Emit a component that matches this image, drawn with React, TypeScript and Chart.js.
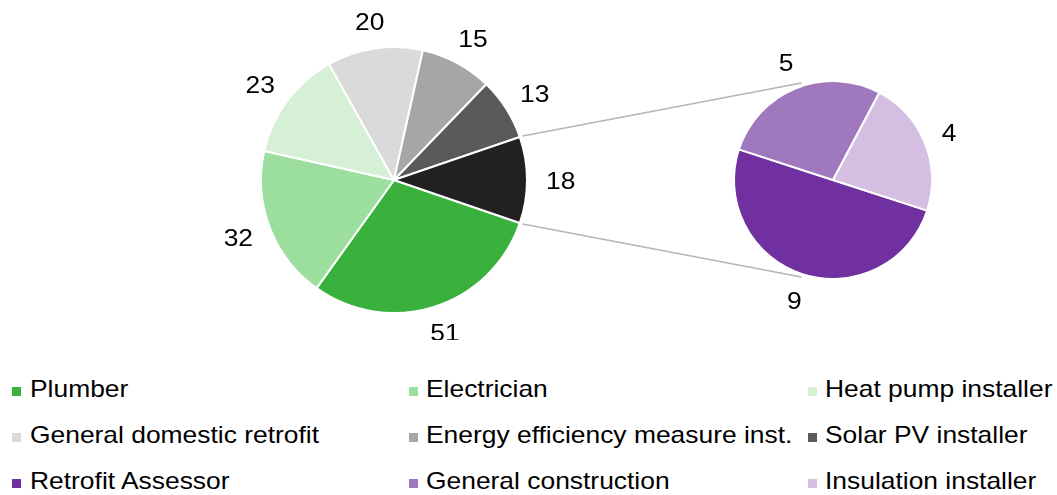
import React, { useEffect, useRef } from 'react';
import { Chart, registerables } from 'chart.js';

Chart.register(...registerables);

// Trades shown in the main pie
const mainLabels = [
  'Plumber',
  'Electrician',
  'Heat pump installer',
  'General domestic retrofit',
  'Energy efficiency measure inst.',
  'Solar PV installer',
];
const mainValues = [51, 32, 23, 20, 15, 13];
const mainColors = ['#39B13C', '#9CDE9E', '#D5F0D5', '#DADADA', '#A6A6A6', '#5A5A5A'];

// Trades split out into the secondary pie (their total forms the dark "other" slice)
const subLabels = ['Retrofit Assessor', 'General construction', 'Insulation installer'];
const subValues = [9, 5, 4];
const subColors = ['#7030A0', '#A078BE', '#D4BFE2'];
const otherColor = '#212121';

const W = 1057;
const H = 495;
const CH = 340;
const FONT_PX = 24;
const FONT = `${FONT_PX}px "Liberation Sans", Arial, sans-serif`;
const STRETCH = 1.1;
const DIGIT_H = 17;

const otherValue = subValues.reduce((a, b) => a + b, 0);
const mainTotal = mainValues.reduce((a, b) => a + b, 0) + otherValue;

// Main pie geometry
const MAIN_CX = 394;
const MAIN_CY = 180;
const MAIN_R = 133;
// Secondary pie geometry
const SUB_CX = 833;
const SUB_CY = 180;
const SUB_R = 99;
const SUB_ROTATION = 108;

const paddingFor = (cx: number, cy: number) => ({
  left: cx - 150,
  right: W - (cx + 150),
  top: cy - 150,
  bottom: CH - (cy + 150),
});

// Draws each slice's value just outside its outer edge
const valueLabels = {
  id: 'valueLabels',
  afterDatasetsDraw(chart: any) {
    const ctx = chart.ctx;
    const meta = chart.getDatasetMeta(0);
    const values = chart.data.datasets[0].data;
    ctx.save();
    ctx.font = FONT;
    ctx.fillStyle = '#000000';
    ctx.textAlign = 'center';
    ctx.textBaseline = 'alphabetic';
    meta.data.forEach((arc: any, i: number) => {
      const { x, y, startAngle, endAngle, outerRadius } = arc.getProps(
        ['x', 'y', 'startAngle', 'endAngle', 'outerRadius'],
        true
      );
      const a = (startAngle + endAngle) / 2;
      const c = Math.cos(a);
      const s = Math.sin(a);
      const txt = String(values[i]);
      const w = ctx.measureText(txt).width * STRETCH;
      const gap = 19;
      const cx = x + (outerRadius + gap) * c + (c * w) / 2;
      const cy = y + (outerRadius + gap) * s + (s * DIGIT_H) / 2;
      ctx.save();
      ctx.translate(cx, cy + DIGIT_H / 2);
      ctx.scale(STRETCH, 1);
      ctx.fillText(txt, 0, 0);
      ctx.restore();
    });
    ctx.restore();
  },
};

const legendItems = [
  ...mainLabels.map((l, i) => ({ label: l, color: mainColors[i] })),
  ...subLabels.map((l, i) => ({ label: l, color: subColors[i] })),
];

export default function App() {
  const mainRef = useRef<HTMLCanvasElement | null>(null);
  const subRef = useRef<HTMLCanvasElement | null>(null);

  useEffect(() => {
    if (!mainRef.current || !subRef.current) return;

    const mainChart = new Chart(mainRef.current, {
      type: 'pie',
      data: {
        labels: [...mainLabels, 'Other'],
        datasets: [
          {
            data: [...mainValues, otherValue],
            backgroundColor: [...mainColors, otherColor],
            borderColor: '#FFFFFF',
            borderWidth: 2,
          },
        ],
      },
      options: {
        responsive: false,
        animation: false,
        devicePixelRatio: 1,
        radius: MAIN_R,
        rotation: 90 + (otherValue / mainTotal) * 180,
        layout: { padding: paddingFor(MAIN_CX, MAIN_CY) },
        plugins: { legend: { display: false }, tooltip: { enabled: false } },
      } as any,
      plugins: [valueLabels],
    });

    // Lines joining the "other" slice to the secondary pie
    const connectors = {
      id: 'connectors',
      beforeDatasetsDraw(chart: any) {
        const arcs = mainChart.getDatasetMeta(0).data as any[];
        const other = arcs[arcs.length - 1];
        const sub = chart.getDatasetMeta(0).data[0] as any;
        if (!other || !sub) return;
        const reach = 3;
        const mr = other.outerRadius + reach;
        const sr = sub.outerRadius + reach;
        const joinAngle = sub.startAngle + Math.PI / 2;
        const ctx = chart.ctx;
        ctx.save();
        ctx.strokeStyle = '#B5B5B5';
        ctx.lineWidth = 1.5;
        ctx.beginPath();
        ctx.moveTo(other.x + mr * Math.cos(other.startAngle), other.y + mr * Math.sin(other.startAngle));
        ctx.lineTo(sub.x + sr * Math.cos(-joinAngle), sub.y + sr * Math.sin(-joinAngle));
        ctx.moveTo(other.x + mr * Math.cos(other.endAngle), other.y + mr * Math.sin(other.endAngle));
        ctx.lineTo(sub.x + sr * Math.cos(joinAngle), sub.y + sr * Math.sin(joinAngle));
        ctx.stroke();
        ctx.restore();
      },
    };

    const subChart = new Chart(subRef.current, {
      type: 'pie',
      data: {
        labels: subLabels,
        datasets: [
          {
            data: subValues,
            backgroundColor: subColors,
            borderColor: '#FFFFFF',
            borderWidth: 2,
          },
        ],
      },
      options: {
        responsive: false,
        animation: false,
        devicePixelRatio: 1,
        radius: SUB_R,
        rotation: SUB_ROTATION,
        layout: { padding: paddingFor(SUB_CX, SUB_CY) },
        plugins: { legend: { display: false }, tooltip: { enabled: false } },
      } as any,
      plugins: [connectors, valueLabels],
    });

    return () => {
      subChart.destroy();
      mainChart.destroy();
    };
  }, []);

  const colX = [12, 408.5, 807.5];
  const baselines = [397.7, 443.4, 489];

  return (
    <div
      style={{
        position: 'absolute',
        left: 0,
        top: 0,
        width: W,
        height: H,
        background: '#FFFFFF',
        overflow: 'hidden',
        fontFamily: '"Liberation Sans", Arial, sans-serif',
      }}
    >
      <canvas
        ref={mainRef}
        width={W}
        height={CH}
        style={{ position: 'absolute', left: 0, top: 0, width: W, height: CH }}
      />
      <canvas
        ref={subRef}
        width={W}
        height={CH}
        style={{ position: 'absolute', left: 0, top: 0, width: W, height: CH }}
      />
      {legendItems.map((item, i) => {
        const col = i % 3;
        const row = Math.floor(i / 3);
        const base = baselines[row];
        return (
          <div key={item.label}>
            <div
              style={{
                position: 'absolute',
                left: colX[col],
                top: base - 10.4,
                width: 9,
                height: 9,
                background: item.color,
              }}
            />
            <span
              style={{
                position: 'absolute',
                left: colX[col] + 17.5,
                top: base - 20.3,
                fontSize: FONT_PX,
                lineHeight: `${FONT_PX}px`,
                color: '#000000',
                whiteSpace: 'nowrap',
                transform: `scaleX(${STRETCH})`,
                transformOrigin: 'left top',
              }}
            >
              {item.label}
            </span>
          </div>
        );
      })}
    </div>
  );
}
